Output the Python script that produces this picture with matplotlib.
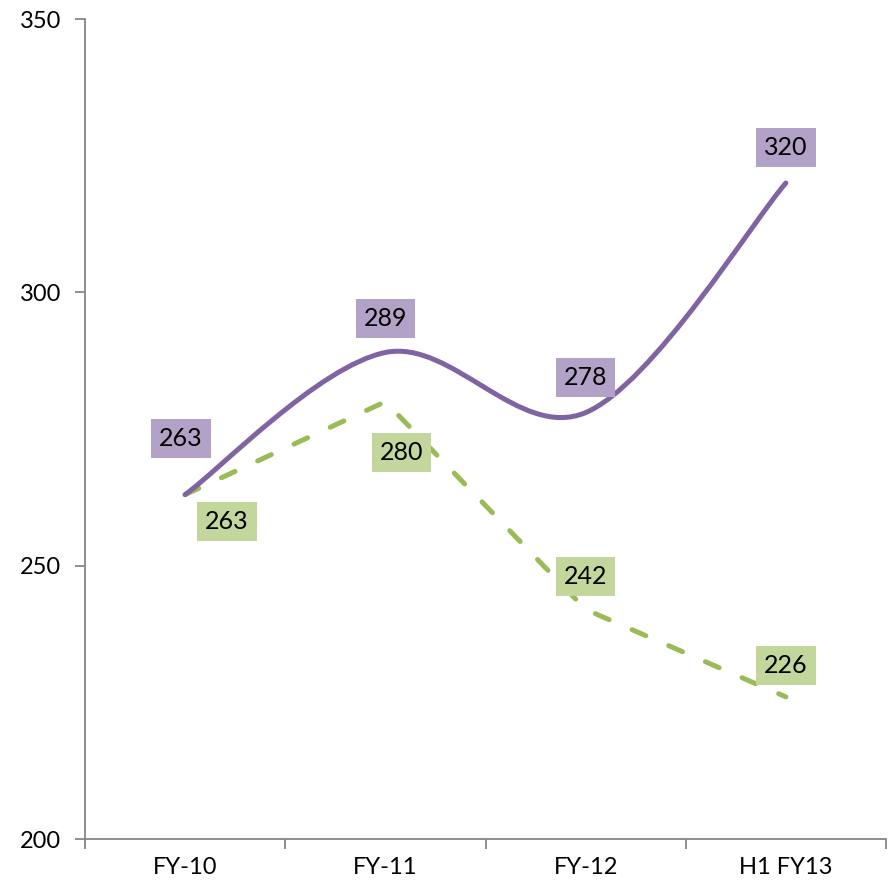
import numpy as np
import matplotlib
matplotlib.use("Agg")
import matplotlib.pyplot as plt
from matplotlib.path import Path
from matplotlib.patches import PathPatch

categories = ["FY-10", "FY-11", "FY-12", "H1 FY13"]
series_a = [263, 289, 278, 320]   # purple, solid, smoothed
series_b = [263, 280, 242, 226]   # green, dashed
y_ticks = [200, 250, 300, 350]

PURPLE = "#8064a2"
PURPLE_BOX = "#b3a2c7"
GREEN = "#9bbb59"
GREEN_BOX = "#c3d69b"
AXIS = "#868686"

plt.rcParams["font.family"] = ["Lato", "DejaVu Sans"]

fig = plt.figure(figsize=(8.93, 8.88), dpi=100)
ax = fig.add_axes([85 / 893, 1 - 839 / 888, 801 / 893, 820 / 888])


def smooth_path(xs, ys):
    """Cubic Bezier path through the points (Catmull-Rom style control points)."""
    pts = np.column_stack([xs, ys]).astype(float)
    n = len(pts)
    verts = [pts[0]]
    codes = [Path.MOVETO]
    for i in range(n - 1):
        p_prev = pts[i - 1] if i > 0 else pts[i]
        p_next = pts[i + 2] if i + 2 < n else pts[i + 1]
        c1 = pts[i] + (pts[i + 1] - p_prev) / 6.0
        c2 = pts[i + 1] - (p_next - pts[i]) / 6.0
        verts += [c1, c2, pts[i + 1]]
        codes += [Path.CURVE4] * 3
    return Path(verts, codes)


x = np.arange(len(categories))

ax.plot(x, series_b, color=GREEN, linewidth=3.6, linestyle=(0, (3.0, 5.0)),
        dash_capstyle="round", solid_joinstyle="round", dash_joinstyle="round",
        zorder=3)
ax.add_patch(PathPatch(smooth_path(x, series_a), fill=False, edgecolor=PURPLE,
                       linewidth=3.6, capstyle="round", joinstyle="round",
                       zorder=4))

# data labels (offsets in pixels)
offs_a = [(-4, 56), (0, 34), (0, 35), (0, 36)]
offs_b = [(42, -27), (16, -51), (0, 33), (0, 31)]
for xi, v, off in zip(x, series_a, offs_a):
    ax.annotate(f"{v}", (xi, v), xytext=off, textcoords="offset pixels",
                ha="center", va="center", fontsize=18, color="black",
                bbox=dict(boxstyle="square,pad=0.32", fc=PURPLE_BOX, ec="none"),
                zorder=6)
for xi, v, off in zip(x, series_b, offs_b):
    ax.annotate(f"{v}", (xi, v), xytext=off, textcoords="offset pixels",
                ha="center", va="center", fontsize=18, color="black",
                bbox=dict(boxstyle="square,pad=0.32", fc=GREEN_BOX, ec="none"),
                zorder=5)

ax.set_xlim(-0.5, len(categories) - 0.5)
ax.set_ylim(200, 350)
ax.set_yticks(y_ticks)
ax.set_yticklabels([str(t) for t in y_ticks])
ax.set_xticks(x)
ax.set_xticklabels(categories)
ax.set_xticks(np.arange(-0.5, len(categories)), minor=True)
ax.tick_params(axis="x", which="major", length=0, pad=13, labelsize=17)
ax.tick_params(axis="x", which="minor", length=7, width=1.3, color=AXIS,
               direction="out")
ax.tick_params(axis="y", length=7, width=1.3, color=AXIS, direction="out",
               pad=10, labelsize=17)

for side in ("top", "right"):
    ax.spines[side].set_visible(False)
for side in ("left", "bottom"):
    ax.spines[side].set_color(AXIS)
    ax.spines[side].set_linewidth(1.3)

fig.savefig("out.png", dpi=100, facecolor="white")
